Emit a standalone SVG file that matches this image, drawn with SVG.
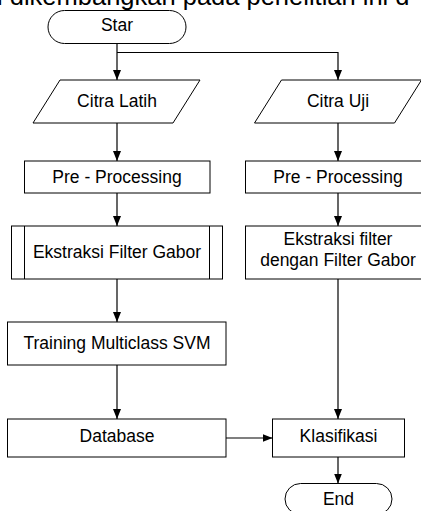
<svg xmlns="http://www.w3.org/2000/svg" width="421" height="511" viewBox="0 0 421 511">
<style>
.s{fill:#fff;stroke:#000;stroke-width:1}
.t{font-family:"Liberation Sans",Arial,sans-serif;font-size:17.5px;fill:#000;text-anchor:middle}
.c{fill:none;stroke:#000;stroke-width:1.2}
</style>
<defs>
<marker id="ah" markerUnits="userSpaceOnUse" markerWidth="10" markerHeight="8" refX="10" refY="4" orient="auto">
<path d="M0,0 L10,4 L0,8 z" fill="#000"/>
</marker>
</defs>
<rect width="421" height="511" fill="#fff"/>
<text x="-3" y="5" style="font-family:'Liberation Sans',Arial,sans-serif;font-size:25.5px;fill:#000">i dikembangkan pada penelitian ini d</text>
<g id="connectors">
<path class="c" d="M117,43.5 V80" marker-end="url(#ah)"/>
<path class="c" d="M117,52.5 H338 V80" marker-end="url(#ah)"/>
<path class="c" d="M117,123 V161" marker-end="url(#ah)"/>
<path class="c" d="M338,123 V161" marker-end="url(#ah)"/>
<path class="c" d="M117,193 V226" marker-end="url(#ah)"/>
<path class="c" d="M338,193 V226" marker-end="url(#ah)"/>
<path class="c" d="M117,279 V322" marker-end="url(#ah)"/>
<path class="c" d="M117,365 V419" marker-end="url(#ah)"/>
<path class="c" d="M226,438 H272.5" marker-end="url(#ah)"/>
<path class="c" d="M338,279 V419" marker-end="url(#ah)"/>
<path class="c" d="M338,457 V483.5" marker-end="url(#ah)"/>
</g>
<g id="star">
<rect class="s" x="48" y="10.5" width="138" height="33" rx="16.5"/>
<text class="t" x="117" y="31">Star</text>
</g>
<g id="citra-latih">
<polygon class="s" points="60,80 200,80 173,123 33,123"/>
<text class="t" x="117" y="107">Citra Latih</text>
</g>
<g id="citra-uji">
<polygon class="s" points="281.5,80 421.5,80 394.5,123 254.5,123"/>
<text class="t" x="338" y="107">Citra Uji</text>
</g>
<g id="pre-left">
<rect class="s" x="24.5" y="161" width="185.5" height="32"/>
<text class="t" x="117" y="183">Pre - Processing</text>
</g>
<g id="pre-right">
<rect class="s" x="245.5" y="161" width="186" height="32"/>
<text class="t" x="338" y="183">Pre - Processing</text>
</g>
<g id="ekstraksi-left">
<rect class="s" x="11.5" y="226" width="211" height="53"/>
<line class="s" x1="24.5" y1="226" x2="24.5" y2="279"/>
<line class="s" x1="209.5" y1="226" x2="209.5" y2="279"/>
<text class="t" x="117" y="258">Ekstraksi Filter Gabor</text>
</g>
<g id="ekstraksi-right">
<rect class="s" x="245.5" y="226" width="186" height="53"/>
<text class="t" x="338" y="245">Ekstraksi filter</text>
<text class="t" x="338" y="266">dengan Filter Gabor</text>
</g>
<g id="training">
<rect class="s" x="7.5" y="322" width="218.5" height="43"/>
<text class="t" x="117" y="348.5">Training Multiclass SVM</text>
</g>
<g id="database">
<rect class="s" x="7.5" y="419" width="218.5" height="38"/>
<text class="t" x="117" y="442">Database</text>
</g>
<g id="klasifikasi">
<rect class="s" x="272.5" y="419" width="132" height="38"/>
<text class="t" x="338.5" y="442">Klasifikasi</text>
</g>
<g id="end">
<rect class="s" x="285" y="483.5" width="107" height="31" rx="15.5"/>
<text class="t" x="338.5" y="504.5">End</text>
</g>
</svg>
